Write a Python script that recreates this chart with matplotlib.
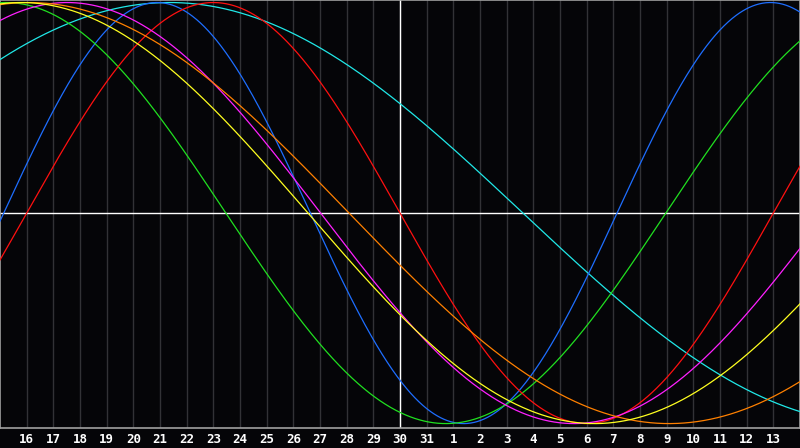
import numpy as np
import matplotlib
matplotlib.use("Agg")
import matplotlib.pyplot as plt

# day labels under the grid lines (15th is the left edge, 14th the right edge)
day_labels = ["16", "17", "18", "19", "20", "21", "22", "23", "24", "25", "26",
              "27", "28", "29", "30", "31", "1", "2", "3", "4", "5", "6", "7",
              "8", "9", "10", "11", "12", "13"]
today_index = 15  # the 30th, marked by the white vertical line

# cycles: length in days and where the peak sits (days from left edge)
cycle_names = ["physical", "emotional", "intellectual", "intuitive",
               "aesthetic", "awareness", "spiritual"]
cycle_periods = [23, 28, 33, 38, 43, 48, 53]
cycle_peaks = [5.89, 8.0, 0.22, 2.52, 0.80, 1.09, 6.36]
cycle_colors = ["#1e6eff", "#ff1010", "#20e020", "#ff20ff",
                "#ffff20", "#ff8000", "#20e8e8"]

bg = "#050508"
fig = plt.figure(figsize=(8, 4.48), dpi=100, facecolor=bg)
ax = fig.add_axes([0, 20 / 448, 1, 428 / 448], facecolor=bg)

n_days = len(day_labels) + 1
t = np.linspace(0, n_days, 1201)

# grid lines for every day
for k in range(1, n_days):
    ax.axvline(k, color="#323236", lw=1.0, zorder=1)

ax.axvline(today_index, color="white", lw=1.0, zorder=2)
ax.axhline(0, color="white", lw=1.0, zorder=2)

order = [6, 0, 2, 1, 3, 5, 4]
for i in order:
    vals = np.cos(2 * np.pi * (t - cycle_peaks[i]) / cycle_periods[i])
    ax.plot(t, vals, color=cycle_colors[i], lw=0.9, zorder=3,
            label=cycle_names[i])

ax.set_xlim(0, n_days)
ax.set_ylim(-1.021, 1.012)

ax.set_xticks(range(1, n_days))
ax.set_xticklabels(day_labels, fontfamily="DejaVu Sans Mono",
                   fontweight="bold", fontsize=9, color="white")
ax.tick_params(axis="x", length=0, pad=3.5)
ax.set_yticks([])

for side in ax.spines.values():
    side.set_color("#a0a0a0")
    side.set_linewidth(1.2)

fig.savefig("out.png", dpi=100, facecolor=bg)
